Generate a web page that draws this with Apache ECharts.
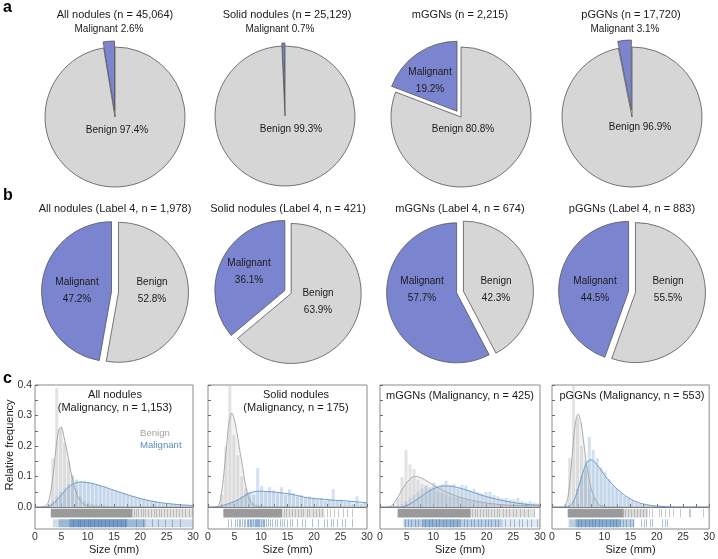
<!DOCTYPE html>
<html><head><meta charset="utf-8">
<script src="https://cdn.jsdelivr.net/npm/echarts@6/dist/echarts.min.js"></script>
<style>html,body{margin:0;padding:0;background:#fff}#c{width:718px;height:559px}</style>
</head><body><div id="c"></div>
<script>
// ================= DATA =================
// Panel a: all cases
const pieTitlesA = ['All nodules (n = 45,064)', 'Solid nodules (n = 25,129)', 'mGGNs (n = 2,215)', 'pGGNs (n = 17,720)'];
const malignantPctA = [2.6, 0.7, 19.2, 3.1];
const benignPctA = [97.4, 99.3, 80.8, 96.9];
// Panel b: Label 4
const pieTitlesB = ['All nodules (Label 4, n = 1,978)', 'Solid nodules (Label 4, n = 421)', 'mGGNs (Label 4, n = 674)', 'pGGNs (Label 4, n = 883)'];
const malignantPctB = [47.2, 36.1, 57.7, 44.5];
const benignPctB = [52.8, 63.9, 42.3, 55.5];
// Panel c: size distributions
const histTitles = ['All nodules\n(Malignancy, n = 1,153)', 'Solid nodules\n(Malignancy, n = 175)', 'mGGNs (Malignancy, n = 425)', 'pGGNs (Malignancy, n = 553)'];
const sizeTicks = [0, 5, 10, 15, 20, 25, 30];
const sizeMinorTicks = [0, 2.5, 5, 7.5, 10, 12.5, 15, 17.5, 20, 22.5, 25, 27.5, 30];
const freqTicks = [0, 0.1, 0.2, 0.3, 0.4];
const freqMinorTicks = [0, 0.05, 0.1, 0.15, 0.2, 0.25, 0.3, 0.35, 0.4];
const binStarts = [0, 0.75, 1.5, 2.25, 3, 3.75, 4.5, 5.25, 6, 6.75, 7.5, 8.25, 9, 9.75, 10.5, 11.25, 12, 12.75, 13.5, 14.25, 15, 15.75, 16.5, 17.25, 18, 18.75, 19.5, 20.25, 21, 21.75, 22.5, 23.25, 24, 24.75, 25.5, 26.25, 27, 27.75, 28.5, 29.25];

const allBenignHist = [0,0,0,0.012,0.16,0.39,0.26,0.21,0.15,0.1,0.058,0.034,0.02,0.014,0.01,0.008,0.006,0.005,0.004,0.004,0.003,0.003,0.002,0.002,0.002,0.002,0.002,0.001,0.001,0.001,0.001,0.001,0.001,0.001,0.001,0.001,0.001,0.001,0.001,0.001];
const allMalignantHist = [0,0,0,0.004,0.02,0.035,0.05,0.062,0.075,0.105,0.09,0.083,0.085,0.08,0.078,0.075,0.07,0.066,0.062,0.058,0.052,0.048,0.045,0.04,0.036,0.032,0.029,0.026,0.022,0.02,0.018,0.015,0.013,0.012,0.01,0.009,0.008,0.007,0.006,0.005];
const solidBenignHist = [0,0,0,0.04,0.2,0.42,0.235,0.17,0.1,0.062,0.03,0.015,0.008,0.005,0.003,0.002,0.002,0.002,0.001,0.001,0.001,0.001,0.001,0.001,0,0,0,0,0,0,0,0,0,0,0,0,0,0,0,0];
const solidMalignantHist = [0,0,0,0.005,0.008,0.012,0.02,0.025,0.035,0.045,0.05,0.04,0.128,0.069,0.05,0.065,0.055,0.045,0.065,0.04,0.058,0.045,0.035,0.04,0.03,0.035,0.03,0.025,0.03,0.02,0.025,0.058,0.02,0.025,0.015,0.02,0.01,0.035,0.01,0.015];
const mggnBenignHist = [0,0,0,0.005,0.03,0.098,0.187,0.14,0.125,0.09,0.075,0.07,0.06,0.068,0.05,0.045,0.042,0.035,0.032,0.03,0.026,0.022,0.02,0.018,0.015,0.013,0.012,0.012,0.009,0.008,0.007,0.006,0.005,0.005,0.004,0.004,0.003,0.003,0.002,0.002];
const mggnMalignantHist = [0,0,0,0,0.004,0.01,0.02,0.03,0.04,0.05,0.06,0.07,0.065,0.08,0.07,0.075,0.086,0.07,0.075,0.06,0.072,0.07,0.055,0.06,0.05,0.045,0.05,0.05,0.04,0.035,0.03,0.03,0.025,0.025,0.03,0.02,0.015,0.02,0.015,0.012];
const pggnBenignHist = [0,0,0,0.01,0.16,0.42,0.29,0.2,0.12,0.06,0.03,0.012,0.006,0.003,0.002,0.002,0.001,0.001,0.001,0.001,0,0,0,0,0,0,0,0,0,0,0,0,0,0,0,0,0,0,0,0];
const pggnMalignantHist = [0,0,0,0,0.005,0.02,0.06,0.1,0.15,0.23,0.187,0.16,0.13,0.116,0.09,0.069,0.06,0.045,0.035,0.03,0.02,0.015,0.01,0.008,0.006,0.005,0.004,0.004,0.003,0.003,0,0,0,0,0,0,0,0,0,0];

const kdeSizes = [0,1,2,2.5,3,3.5,4,4.5,5,5.5,6,6.5,7,7.5,8,9,10,11,12,13,14,15,16,17,18,19,20,22,24,26,28,30];
const allBenignKde = [0,0,0.004,0.015,0.05,0.115,0.195,0.252,0.262,0.23,0.19,0.145,0.1,0.065,0.04,0.013,0.004,0.002,0.001,0.001,0,0,0,0,0,0,0,0,0,0,0,0];
const allMalignantKde = [0,0,0,0.002,0.006,0.012,0.02,0.03,0.04,0.05,0.06,0.068,0.074,0.078,0.081,0.082,0.08,0.077,0.072,0.067,0.061,0.055,0.049,0.044,0.038,0.033,0.028,0.02,0.014,0.01,0.007,0.005];
const solidBenignKde = [0,0,0.006,0.04,0.11,0.2,0.28,0.308,0.285,0.24,0.185,0.135,0.08,0.04,0.018,0.003,0.001,0,0,0,0,0,0,0,0,0,0,0,0,0,0,0];
const solidMalignantKde = [0,0,0.001,0.003,0.006,0.009,0.012,0.015,0.018,0.022,0.027,0.032,0.038,0.043,0.047,0.051,0.052,0.051,0.05,0.048,0.046,0.044,0.041,0.037,0.033,0.03,0.028,0.025,0.022,0.02,0.017,0.014];
const mggnBenignKde = [0,0,0.002,0.01,0.022,0.037,0.053,0.068,0.08,0.09,0.097,0.1,0.1,0.097,0.093,0.083,0.072,0.062,0.053,0.045,0.038,0.032,0.027,0.023,0.019,0.016,0.013,0.009,0.006,0.005,0.004,0.003];
const mggnMalignantKde = [0,0,0,0,0,0,0,0.002,0.005,0.009,0.014,0.02,0.026,0.032,0.038,0.05,0.06,0.066,0.069,0.069,0.066,0.062,0.057,0.051,0.045,0.039,0.034,0.025,0.018,0.012,0.008,0.006];
const pggnBenignKde = [0,0,0,0.005,0.028,0.1,0.2,0.28,0.305,0.28,0.22,0.15,0.1,0.06,0.035,0.007,0.001,0,0,0,0,0,0,0,0,0,0,0,0,0,0,0];
const pggnMalignantKde = [0,0,0,0,0.001,0.005,0.015,0.035,0.06,0.09,0.118,0.14,0.152,0.155,0.15,0.13,0.105,0.085,0.066,0.05,0.037,0.026,0.018,0.012,0.008,0.005,0.003,0.001,0,0,0,0];

// Rug plots: bands [from mm, to mm, opacity] and single ticks (mm)
const allBenignRugBands = [[3.0, 18.5, 1], [18.5, 30, 0.3]];
const allBenignRugTicks = [18.8, 19.2, 19.6, 20.1, 20.5, 20.9, 21.4, 22.0, 22.5, 23.0, 23.6, 24.0, 24.5, 25.1, 25.6, 26.2, 26.8, 27.4, 28.0, 28.5, 29.2, 29.8];
const allMalignantRugBands = [[3.4, 30, 0.25], [4.5, 21, 0.35], [6.5, 17.5, 0.4]];
const allMalignantRugTicks = [7.2, 8.1, 8.6, 9.3, 10.0, 10.4, 11.2, 12.0, 12.5, 13.3, 14.1, 14.8, 15.6, 16.3, 17.0, 19.2, 20.5, 22.3, 23.4, 24.6, 26.0, 27.5];
const solidBenignRugBands = [[2.9, 14.0, 1], [14, 22, 0.3]];
const solidBenignRugTicks = [14.3, 14.8, 15.2, 15.9, 16.4, 16.9, 17.5, 18.0, 18.6, 19.1, 19.8, 20.3, 21.0, 21.6, 22.4, 23.1, 23.8, 24.6, 25.4, 26.2, 27.1];
const solidMalignantRugBands = [[7.5, 10.8, 0.25]];
const solidMalignantRugTicks = [3.7, 4.3, 5.0, 5.4, 5.8, 6.1, 6.4, 6.7, 7.0, 7.3, 7.6, 7.9, 8.2, 8.5, 8.8, 9.0, 9.2, 9.5, 9.7, 10.0, 10.3, 10.6, 10.9, 11.3, 11.7, 12.1, 12.6, 13.0, 13.5, 14.0, 14.4, 14.9, 15.4, 15.8, 16.7, 17.7, 18.3, 19.6, 20.8, 21.8, 22.4, 23.2, 23.6, 24.3, 25.2, 25.8, 27.1];
const mggnBenignRugBands = [[3.3, 17, 1], [17, 29, 0.3]];
const mggnBenignRugTicks = [17.3, 17.8, 18.2, 18.7, 19.3, 19.8, 20.2, 20.8, 21.3, 21.9, 22.4, 23.0, 23.6, 24.2, 24.9, 25.5, 26.3, 27.0, 27.8, 28.8];
const mggnMalignantRugBands = [[4.4, 23, 0.35], [8, 15, 0.3], [23, 30, 0.15]];
const mggnMalignantRugTicks = [4.6, 5.3, 5.9, 6.6, 7.2, 7.9, 8.5, 9.2, 9.8, 10.5, 11.1, 11.8, 12.4, 13.1, 13.7, 14.4, 15.0, 15.7, 16.3, 17.0, 17.6, 18.3, 18.9, 19.6, 20.2, 20.9, 21.5, 22.2, 23.5, 24.3, 25.2, 26.0, 26.6, 27.5, 28.3, 29.4];
const pggnBenignRugBands = [[3.0, 13.7, 1], [13.7, 18.3, 0.35]];
const pggnBenignRugTicks = [14.0, 14.6, 15.1, 15.7, 16.2, 16.8, 17.3, 17.9, 18.5, 19.0, 20.4, 20.9, 21.6, 22.3, 23.1, 24.4, 26.1, 26.3, 28.8];
const pggnMalignantRugBands = [[3.2, 15.7, 0.35], [4.5, 13, 0.4]];
const pggnMalignantRugTicks = [5.0, 5.6, 6.3, 7.0, 7.6, 8.3, 9.0, 9.6, 10.3, 11.0, 11.6, 12.3, 13.0, 13.6, 14.2, 14.8, 15.4, 17.0, 17.5, 18.0, 18.8, 19.0, 21.0, 21.5, 22.0];

// ================= STYLE / LAYOUT =================
const FONT = '"Liberation Sans", Arial, Helvetica, sans-serif';
const C_MAL = '#7b85cf', C_BEN = '#d6d6d6', C_EDGE = '#555555';
const PIE_R = 70;
const pieCentersA = [[115, 117], [285, 116], [461, 117], [632, 117]];
const pieOffsetsA = [6, 3, 7, 7];
const pieCentersB = [[115, 292], [288, 292], [460, 292], [632, 292]];
const titleXA = [115, 287, 460, 631];
const titleXB = [115, 288, 460, 632];
const gridLefts = [35, 208, 380, 552];
const gridWidths = [158, 159, 160, 161];
const GRID_TOP = 385, GRID_H = 144;
const Y_MIN = -0.072, Y_MAX = 0.4;
const BIN_W = 0.75;
const RUG_BEN = [-0.006, -0.034], RUG_MAL = [-0.04, -0.066];
const C_GRAY_BAR = 'rgba(200,200,200,0.5)', C_BLUE_BAR = 'rgba(140,175,215,0.38)';
const C_GRAY_LINE = '#a9a9a9', C_GRAY_AREA = 'rgba(195,195,195,0.32)';
const C_BLUE_LINE = '#6d9ac9', C_BLUE_AREA = 'rgba(120,160,205,0.22)';
const C_RUG_GRAY = '#9a9a9a', C_RUG_BLUE = '#3f74ae';

const panels = [
  {bh: allBenignHist, mh: allMalignantHist, bk: allBenignKde, mk: allMalignantKde, brb: allBenignRugBands, brt: allBenignRugTicks, mrb: allMalignantRugBands, mrt: allMalignantRugTicks},
  {bh: solidBenignHist, mh: solidMalignantHist, bk: solidBenignKde, mk: solidMalignantKde, brb: solidBenignRugBands, brt: solidBenignRugTicks, mrb: solidMalignantRugBands, mrt: solidMalignantRugTicks},
  {bh: mggnBenignHist, mh: mggnMalignantHist, bk: mggnBenignKde, mk: mggnMalignantKde, brb: mggnBenignRugBands, brt: mggnBenignRugTicks, mrb: mggnMalignantRugBands, mrt: mggnMalignantRugTicks},
  {bh: pggnBenignHist, mh: pggnMalignantHist, bk: pggnBenignKde, mk: pggnMalignantKde, brb: pggnBenignRugBands, brt: pggnBenignRugTicks, mrb: pggnMalignantRugBands, mrt: pggnMalignantRugTicks}
];

function txt(x, y, text, size, extra) {
  return Object.assign({
    type: 'text', x: x, y: y, silent: true, z: 100,
    style: Object.assign({
      text: text, fontSize: size, fontFamily: FONT, fill: '#1a1a1a',
      align: 'center', verticalAlign: 'middle', textAlign: 'center', textVerticalAlign: 'middle'
    }, (extra && extra.style) || {})
  }, (extra && extra.el) || {});
}

const series = [];
const grids = [], xAxes = [], yAxes = [];
const elements = [];

// ---- panel letters ----
elements.push(txt(3, 8, 'a', 16, {style: {fontWeight: 'bold', align: 'left', textAlign: 'left', fill: '#000'}}));
elements.push(txt(3, 196, 'b', 16, {style: {fontWeight: 'bold', align: 'left', textAlign: 'left', fill: '#000'}}));
elements.push(txt(3, 379, 'c', 16, {style: {fontWeight: 'bold', align: 'left', textAlign: 'left', fill: '#000'}}));

function pieBase(center) {
  return {
    type: 'pie', center: center, radius: PIE_R, startAngle: 90, clockwise: false,
    selectedMode: 'multiple', silent: true, animation: false,
    emphasis: {disabled: true, scale: false},
    itemStyle: {borderColor: C_EDGE, borderWidth: 0.8},
    select: {itemStyle: {borderColor: C_EDGE, borderWidth: 0.8}},
    label: {show: false}, labelLine: {show: false}
  };
}

// ---- panel a ----
const aLabelLayout = [
  {mal: [109, 29], ben: [117, 130], inside: false},
  {mal: [280, 29], ben: [291, 129], inside: false},
  {mal: [430, 81], ben: [463, 129], inside: true},
  {mal: [625, 29], ben: [640, 127], inside: false}
];
for (let i = 0; i < 4; i++) {
  const s = pieBase(pieCentersA[i]);
  s.selectedOffset = pieOffsetsA[i];
  s.data = [
    {name: 'Malignant', value: malignantPctA[i], selected: true, itemStyle: {color: C_MAL}},
    {name: 'Benign', value: benignPctA[i], itemStyle: {color: C_BEN}}
  ];
  series.push(s);
  elements.push(txt(titleXA[i], 15, pieTitlesA[i], 11));
  const L = aLabelLayout[i];
  if (L.inside) {
    elements.push(txt(L.mal[0], L.mal[1], 'Malignant\n' + malignantPctA[i].toFixed(1) + '%', 10, {style: {lineHeight: 17}}));
  } else {
    elements.push(txt(L.mal[0], L.mal[1], 'Malignant ' + malignantPctA[i].toFixed(1) + '%', 10));
  }
  elements.push(txt(L.ben[0], L.ben[1], 'Benign ' + benignPctA[i].toFixed(1) + '%', 10));
}

// ---- panel b ----
const bLabelLayout = [
  {mal: [77, 290.5], ben: [152, 290.5]},
  {mal: [249, 272], ben: [318, 302]},
  {mal: [422, 289.5], ben: [496, 289.5]},
  {mal: [595, 289.5], ben: [668, 289.5]}
];
for (let i = 0; i < 4; i++) {
  const s = pieBase(pieCentersB[i]);
  s.selectedOffset = 3.5;
  s.data = [
    {name: 'Malignant', value: malignantPctB[i], selected: true, itemStyle: {color: C_MAL}},
    {name: 'Benign', value: benignPctB[i], selected: true, itemStyle: {color: C_BEN}}
  ];
  series.push(s);
  elements.push(txt(titleXB[i], 209, pieTitlesB[i], 11));
  const L = bLabelLayout[i];
  elements.push(txt(L.mal[0], L.mal[1], 'Malignant\n' + malignantPctB[i].toFixed(1) + '%', 10, {style: {lineHeight: 17}}));
  elements.push(txt(L.ben[0], L.ben[1], 'Benign\n' + benignPctB[i].toFixed(1) + '%', 10, {style: {lineHeight: 17}}));
}

// ---- panel c ----
function histSeries(gi, vals, color) {
  return {
    type: 'custom', xAxisIndex: gi, yAxisIndex: gi, clip: true, z: 2, silent: true, animation: false,
    data: binStarts.map((s, i) => [s, vals[i]]),
    renderItem: (params, api) => {
      const s = api.value(0), v = Math.min(api.value(1), Y_MAX);
      if (!(v > 0)) return {type: 'group', children: []};
      const a = api.coord([s + BIN_W * 0.12, v]);
      const b = api.coord([s + BIN_W * 0.88, 0]);
      return {type: 'rect', shape: {x: a[0], y: a[1], width: b[0] - a[0], height: b[1] - a[1]}, style: {fill: color}};
    }
  };
}
function kdeSeries(gi, vals, line, area, withZero) {
  const s = {
    type: 'line', xAxisIndex: gi, yAxisIndex: gi, z: 3, silent: true, animation: false,
    data: kdeSizes.map((x, i) => [x, vals[i]]),
    smooth: 0.3, symbol: 'none', showSymbol: false, clip: true,
    lineStyle: {color: line, width: 1}, areaStyle: {color: area, origin: 0}
  };
  if (withZero) {
    s.markLine = {silent: true, symbol: 'none', animation: false, label: {show: false},
      lineStyle: {color: '#7a7a7a', width: 1, type: 'solid'}, data: [{yAxis: 0}]};
  }
  return s;
}
function rugSeries(gi, bands, ticks, color, yr, tickAlpha) {
  const data = bands.map(b => [b[0], b[1], b[2]]).concat(ticks.map(t => [t, t, tickAlpha]));
  return {
    type: 'custom', xAxisIndex: gi, yAxisIndex: gi, clip: true, z: 4, silent: true, animation: false,
    encode: {x: [0, 1], y: 2},
    data: data,
    renderItem: (params, api) => {
      const x0 = api.value(0), x1 = api.value(1), al = api.value(2);
      const a = api.coord([x0, yr[0]]), b = api.coord([x1, yr[1]]);
      if (x1 > x0) {
        return {type: 'rect', shape: {x: a[0], y: a[1], width: b[0] - a[0], height: b[1] - a[1]}, style: {fill: color, opacity: al}};
      }
      const xp = Math.round(a[0]) + 0.5;
      return {type: 'line', shape: {x1: xp, y1: a[1], x2: xp, y2: b[1]}, style: {stroke: color, lineWidth: 1, opacity: al}};
    }
  };
}

const cTitlePos = [[115, 401.5], [296, 401.5], [460, 395.5], [632, 395.5]];
for (let gi = 0; gi < 4; gi++) {
  grids.push({left: gridLefts[gi], top: GRID_TOP, width: gridWidths[gi], height: GRID_H,
    show: true, borderColor: '#8a8a8a', borderWidth: 1, backgroundColor: 'transparent'});
  xAxes.push({
    type: 'value', gridIndex: gi, min: 0, max: 30,
    axisLine: {show: false},
    axisTick: {show: true, inside: true, length: 3, customValues: sizeMinorTicks, lineStyle: {color: '#6a6a6a'}},
    axisLabel: {show: true, customValues: sizeTicks, fontSize: 10.5, color: '#333', margin: 3, fontFamily: FONT, showMinLabel: true, showMaxLabel: true},
    splitLine: {show: false},
    name: 'Size (mm)', nameLocation: 'middle', nameGap: 15,
    nameTextStyle: {fontSize: 11, color: '#222', fontFamily: FONT}
  });
  yAxes.push({
    type: 'value', gridIndex: gi, min: Y_MIN, max: Y_MAX,
    axisLine: {show: false},
    axisTick: {show: true, inside: true, length: 3, customValues: freqMinorTicks, lineStyle: {color: '#6a6a6a'}},
    axisLabel: {show: gi === 0, customValues: freqTicks, formatter: v => v.toFixed(1), fontSize: 10.5, color: '#333', margin: 3, fontFamily: FONT},
    splitLine: {show: false}
  });
  const P = panels[gi];
  series.push(histSeries(gi, P.bh, C_GRAY_BAR));
  series.push(histSeries(gi, P.mh, C_BLUE_BAR));
  series.push(kdeSeries(gi, P.bk, C_GRAY_LINE, C_GRAY_AREA, true));
  series.push(kdeSeries(gi, P.mk, C_BLUE_LINE, C_BLUE_AREA, false));
  series.push(rugSeries(gi, P.brb, P.brt, C_RUG_GRAY, RUG_BEN, 0.55));
  series.push(rugSeries(gi, P.mrb, P.mrt, C_RUG_BLUE, RUG_MAL, 0.45));
  elements.push(txt(cTitlePos[gi][0], cTitlePos[gi][1], histTitles[gi], 11, {style: {lineHeight: 13.5}}));
}
elements.push(txt(140, 433, 'Benign', 9.6, {style: {fill: '#a3a3a3', align: 'left', textAlign: 'left'}}));
elements.push(txt(140, 445, 'Malignant', 9.6, {style: {fill: '#5b8cc2', align: 'left', textAlign: 'left'}}));
elements.push(txt(10, 445, 'Relative frequency', 11, {el: {rotation: Math.PI / 2}}));

const chart = echarts.init(document.getElementById('c'), null, {renderer: 'canvas'});
chart.setOption({
  animation: false,
  textStyle: {fontFamily: FONT},
  grid: grids, xAxis: xAxes, yAxis: yAxes,
  series: series,
  graphic: {elements: elements}
});
</script></body></html>
